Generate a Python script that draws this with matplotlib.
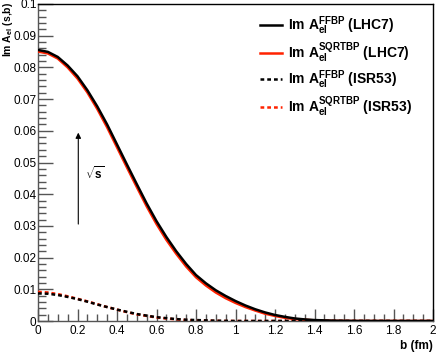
import numpy as np
import matplotlib
matplotlib.use("Agg")
import matplotlib.pyplot as plt
from matplotlib.ticker import MultipleLocator, FuncFormatter

plt.rcParams['font.family'] = ['Liberation Sans', 'DejaVu Sans']
plt.rcParams['mathtext.fontset'] = 'custom'
plt.rcParams['mathtext.rm'] = 'Liberation Sans'
plt.rcParams['mathtext.bf'] = 'Liberation Sans:bold'
plt.rcParams['mathtext.it'] = 'Liberation Sans:italic'

# impact parameter b (fm)
b = [0.0, 0.05, 0.1, 0.15, 0.2, 0.25, 0.3, 0.35, 0.4, 0.45, 0.5, 0.55, 0.6, 0.65,
     0.7, 0.75, 0.8, 0.85, 0.9, 0.95, 1.0, 1.05, 1.1, 1.15, 1.2, 1.25, 1.3, 1.35,
     1.4, 1.5, 1.6, 1.8, 2.0]
ffbp_lhc7 = [0.0855, 0.0849, 0.0833, 0.0806, 0.0772, 0.0728, 0.0677, 0.0620, 0.0557,
             0.0494, 0.0432, 0.0371, 0.0315, 0.0265, 0.0220, 0.0180, 0.0145, 0.0119,
             0.0097, 0.0079, 0.0063, 0.0049, 0.0037, 0.0027, 0.0019, 0.0013, 0.0008,
             0.0005, 0.0003, 0.0001, 0.00003, 0.0, 0.0]
sqrtbp_lhc7 = [0.0850, 0.0844, 0.0828, 0.0800, 0.0765, 0.0721, 0.0669, 0.0611, 0.0548,
               0.0485, 0.0423, 0.0362, 0.0306, 0.0256, 0.0212, 0.0172, 0.0138, 0.0112,
               0.0090, 0.0072, 0.0057, 0.0044, 0.0033, 0.0023, 0.0016, 0.0010, 0.0006,
               0.0004, 0.0002, 0.00005, 0.0, 0.0, 0.0]
ffbp_isr53 = [0.0087, 0.0086, 0.0082, 0.0076, 0.0069, 0.0061, 0.0052, 0.0044, 0.0036,
              0.0029, 0.0022, 0.0017, 0.0012, 0.0009, 0.0006, 0.0004, 0.0003, 0.0002,
              0.0001, 0.00005, 0.0, 0.0, 0.0, 0.0, 0.0, 0.0, 0.0, 0.0, 0.0, 0.0, 0.0, 0.0, 0.0]
sqrtbp_isr53 = [0.0092, 0.0090, 0.0085, 0.0078, 0.0070, 0.0062, 0.0053, 0.0044, 0.0036,
                0.0028, 0.0021, 0.0016, 0.0011, 0.0008, 0.0005, 0.0003, 0.0002, 0.0001,
                0.00005, 0.0, 0.0, 0.0, 0.0, 0.0, 0.0, 0.0, 0.0, 0.0, 0.0, 0.0, 0.0, 0.0, 0.0]

labels = [r"Im $\mathbf{A}_{\mathbf{el}}^{\mathbf{FFBP}}$ (LHC7)",
          r"Im $\mathbf{A}_{\mathbf{el}}^{\mathbf{SQRTBP}}$ (LHC7)",
          r"Im $\mathbf{A}_{\mathbf{el}}^{\mathbf{FFBP}}$ (ISR53)",
          r"Im $\mathbf{A}_{\mathbf{el}}^{\mathbf{SQRTBP}}$ (ISR53)"]

fig = plt.figure(figsize=(4.36, 3.54), dpi=100)
ax = fig.add_axes([38/436, 1-321/354, (433-38)/436, (321-4)/354])

ax.plot(b, ffbp_lhc7, color='black', lw=1.8, label=labels[0], zorder=4)
ax.plot(b, sqrtbp_lhc7, color='#ff2200', lw=1.8, label=labels[1], zorder=3)
ax.plot(b, ffbp_isr53, color='black', lw=1.8, ls=(0, (1.5, 1.2)), label=labels[2], zorder=4)
ax.plot(b, sqrtbp_isr53, color='#ff2200', lw=1.8, ls=(0, (1.5, 1.2)), label=labels[3], zorder=3)

ax.set_xlim(0, 2)
ax.set_ylim(0, 0.1)
ax.xaxis.set_major_locator(MultipleLocator(0.2))
ax.xaxis.set_minor_locator(MultipleLocator(0.05))
ax.yaxis.set_major_locator(MultipleLocator(0.01))
ax.yaxis.set_minor_locator(MultipleLocator(0.002))

def fmt(v, pos):
    s = ('%.2f' % v).rstrip('0').rstrip('.')
    return s if s else '0'
ax.xaxis.set_major_formatter(FuncFormatter(fmt))
ax.yaxis.set_major_formatter(FuncFormatter(fmt))

ax.tick_params(which='both', direction='in', top=False, right=False, labelsize=8.5,
               color='#555555', width=1.0)
ax.tick_params(axis='y', which='major', length=11, pad=1)
ax.tick_params(axis='y', which='minor', length=6)
ax.tick_params(axis='x', which='major', length=9, pad=3)
ax.tick_params(axis='x', which='minor', length=5)
for s in ax.spines.values():
    s.set_linewidth(1.0)
    s.set_color('black')
ax.spines['left'].set_color('#555555')
ax.spines['bottom'].set_color('#555555')

ax.set_xlabel('b (fm)', fontsize=8.5, fontweight='bold', loc='right', labelpad=2)
fig.text(1/436, 1-2/354, r'Im $\mathbf{A}_{\mathbf{el}}$ (s,b)', fontsize=7.5, fontweight='bold',
         rotation=90, ha='left', va='top')

# arrow with sqrt(s) annotation
ax.annotate('', xy=(0.204, 0.0603), xytext=(0.204, 0.0297),
            arrowprops=dict(arrowstyle='-|>', color='black', lw=0.8, mutation_scale=8))
ax.text(0.24, 0.0465, r'$\mathbf{\sqrt{s}}$', fontsize=8.5, ha='left', va='center', fontweight='bold')

leg = ax.legend(loc='upper right', bbox_to_anchor=(0.968, 0.995), frameon=False,
                handlelength=1.6, handletextpad=0.4, labelspacing=0.25,
                borderaxespad=0.2, prop={'weight': 'bold', 'size': 10})

fig.savefig('out.png', dpi=100)
